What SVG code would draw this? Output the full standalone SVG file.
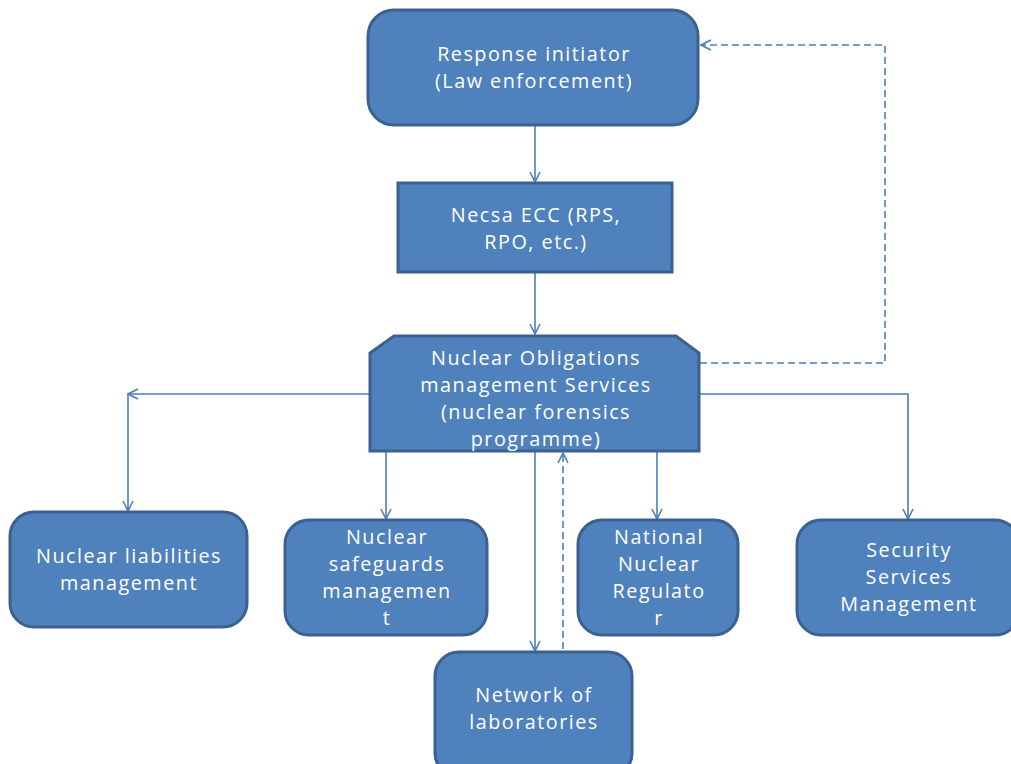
<svg xmlns="http://www.w3.org/2000/svg" width="1011" height="764" viewBox="0 0 1011 764">
<defs>
<marker id="arr" viewBox="0 0 12 12" refX="11" refY="6" markerWidth="12" markerHeight="12" markerUnits="userSpaceOnUse" orient="auto">
<path d="M1,1 L11,6 L1,11" fill="none" stroke="#4A7EBB" stroke-width="1.6"/>
</marker>
<style>
.box{fill:#4F81BD;stroke:#3A6190;stroke-width:3}
.t{font-family:"Open Sans","Liberation Sans",sans-serif;font-size:19.8px;letter-spacing:1.5px;fill:#FFFFFF;text-anchor:middle}
.c{fill:none;stroke:#4A7EBB;stroke-width:1.6}
.d{fill:none;stroke:#4A7EBB;stroke-width:1.6;stroke-dasharray:7,4}
</style>
</defs>
<rect width="1011" height="764" fill="#FFFFFF"/>
<g id="connectors">
<line class="c" x1="535" y1="125" x2="535" y2="182" marker-end="url(#arr)"/>
<line class="c" x1="535" y1="272" x2="535" y2="334" marker-end="url(#arr)"/>
<line class="c" x1="370" y1="394" x2="128" y2="394" marker-end="url(#arr)"/>
<line class="c" x1="128" y1="394" x2="128" y2="511" marker-end="url(#arr)"/>
<path class="c" d="M700,394 L908,394 L908,519" marker-end="url(#arr)"/>
<line class="c" x1="386" y1="452" x2="386" y2="519" marker-end="url(#arr)"/>
<line class="c" x1="657" y1="452" x2="657" y2="519" marker-end="url(#arr)"/>
<line class="c" x1="535" y1="452" x2="535" y2="651" marker-end="url(#arr)"/>
<path class="d" d="M700,363 L885,363 L885,45 L701,45" marker-end="url(#arr)"/>
</g>
<g id="n-response">
<rect class="box" x="368" y="10" width="330" height="115" rx="26"/>
<text class="t" x="534" y="61">Response initiator</text>
<text class="t" x="534" y="88">(Law enforcement)</text>
</g>
<g id="n-ecc">
<rect class="box" x="398" y="183" width="274" height="89"/>
<text class="t" x="536" y="222">Necsa ECC (RPS,</text>
<text class="t" x="536" y="249">RPO, etc.)</text>
</g>
<g id="n-noms">
<path class="box" d="M394,336 L676,336 L699,353 L699,451 L370,451 L370,353 Z"/>
<text class="t" x="536" y="365">Nuclear Obligations</text>
<text class="t" x="536" y="392">management Services</text>
<text class="t" x="536" y="419">(nuclear forensics</text>
<text class="t" x="536" y="446">programme)</text>
</g>
<g id="n-liabilities">
<rect class="box" x="10" y="512" width="237" height="115" rx="24"/>
<text class="t" x="129" y="563">Nuclear liabilities</text>
<text class="t" x="129" y="590">management</text>
</g>
<g id="n-safeguards">
<rect class="box" x="285" y="520" width="202" height="115" rx="24"/>
<text class="t" x="387" y="544">Nuclear</text>
<text class="t" x="387" y="571">safeguards</text>
<text class="t" x="387" y="598">managemen</text>
<text class="t" x="387" y="625">t</text>
</g>
<g id="n-nnr">
<rect class="box" x="578" y="520" width="160" height="115" rx="24"/>
<text class="t" x="659" y="544">National</text>
<text class="t" x="659" y="571">Nuclear</text>
<text class="t" x="659" y="598">Regulato</text>
<text class="t" x="659" y="625">r</text>
</g>
<g id="n-security">
<rect class="box" x="797" y="520" width="222" height="115" rx="24"/>
<text class="t" x="909" y="557">Security</text>
<text class="t" x="909" y="584">Services</text>
<text class="t" x="909" y="611">Management</text>
</g>
<g id="n-network">
<rect class="box" x="435" y="652" width="197" height="125" rx="24"/>
<text class="t" x="534" y="702">Network of</text>
<text class="t" x="534" y="729">laboratories</text>
</g>
<g id="connectors-over">
<line class="d" x1="563" y1="715" x2="563" y2="453" marker-end="url(#arr)"/>
</g>
</svg>
